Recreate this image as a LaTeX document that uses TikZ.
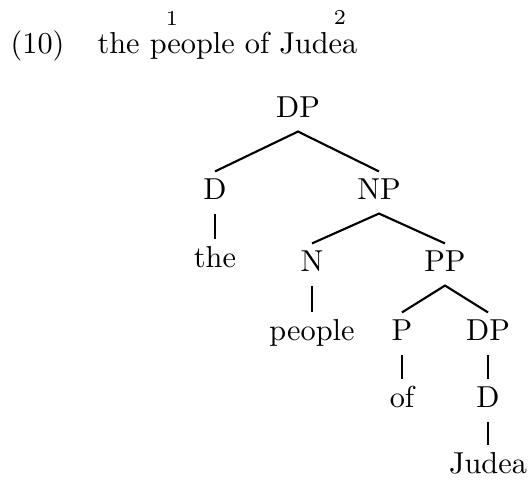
\documentclass[tikz,border=0pt]{standalone}
\usepackage{tikz}

\begin{document}
\begin{tikzpicture}[
        x=0.33pt, y=-0.33pt,
        cat/.style={anchor=base, inner sep=2pt, text height=6.9pt, text depth=2.6pt},
        idx/.style={anchor=base, inner sep=0pt, font=\scriptsize},
        branch/.style={line width=0.7pt}
    ]
        \useasboundingbox (0,0) rectangle (530,481);
        % example line
        \node[anchor=base west, inner sep=0pt] (exnum) at (10,53) {(10)};
        \node[anchor=base west, inner sep=0pt] (sent) at (97,53) {the people of Judea};
        \node[idx] (idxone) at (172,25) {1};
        \node[idx] (idxtwo) at (340,24) {2};

        % tree
        \node[cat] (dp) at (298,117) {DP};
        \node[cat] (d) at (215,199) {D};
        \node[cat] (np) at (379,199) {NP};
        \node[cat] (the) at (215,267) {the};
        \node[cat] (n) at (312,271) {N};
        \node[cat] (pp) at (445,271) {PP};
        \node[cat] (people) at (312,340) {people};
        \node[cat] (p) at (402,340) {P};
        \node[cat] (dpb) at (488,340) {DP};
        \node[cat] (of) at (402,407) {of};
        \node[cat] (db) at (488,407) {D};
        \node[cat] (judea) at (488,473) {Judea};

        \draw[branch] (d.north) -- (dp.south) -- (np.north);
        \draw[branch] (d) -- (the);
        \draw[branch] (n.north) -- (np.south) -- (pp.north);
        \draw[branch] (n) -- (people);
        \draw[branch] (p.north) -- (pp.south) -- (dpb.north);
        \draw[branch] (p) -- (of);
        \draw[branch] (dpb) -- (db);
        \draw[branch] (db) -- (judea);
    \end{tikzpicture}
\end{document}
